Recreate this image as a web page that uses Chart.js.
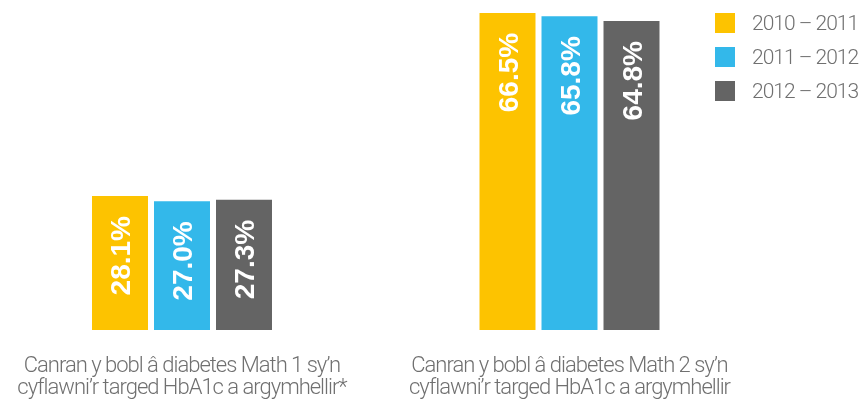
<!DOCTYPE html>
<html lang="cy">
<head>
<meta charset="utf-8">
<title>HbA1c</title>
<script src="https://cdn.jsdelivr.net/npm/chart.js@4.4.0/dist/chart.umd.min.js"></script>
<style>
  html, body { margin: 0; padding: 0; background: #fff; }
  #wrap { position: relative; width: 863px; height: 403px; }
  #legend {
    position: absolute; left: 715px; top: 13px;
    font-family: Roboto, "Liberation Sans", sans-serif; font-weight: 300;
    font-size: 21px; letter-spacing: -1px; color: #707070;
  }
  .item { display: flex; align-items: center; height: 20px; margin-bottom: 14px; white-space: nowrap; }
  .swatch { width: 20px; height: 20px; margin-right: 17px; flex: none; }
</style>
</head>
<body>
<div id="wrap">
  <canvas id="chart" width="863" height="403"></canvas>
  <div id="legend"></div>
</div>
<script>
const CATEGORIES = [
  ["Canran y bobl â diabetes Math 1 sy’n", "cyflawni’r targed HbA1c a argymhellir*"],
  ["Canran y bobl â diabetes Math 2 sy’n", "cyflawni’r targed HbA1c a argymhellir"],
];
const SERIES_LABELS = ["2010 – 2011", "2011 – 2012", "2012 – 2013"];
const VALUES_2010_11 = [28.1, 66.5];
const VALUES_2011_12 = [27.0, 65.8];
const VALUES_2012_13 = [27.3, 64.8];
const COLORS = ["#FDC300", "#33B8EA", "#646464"];

const TEXT = "#707070";
const TIGHT = "-1px";

// Llythrennau tynnach i'r labeli categori, fel yn y gwreiddiol
// (wrth fesur ac wrth dynnu, fel nad yw'r cynllun yn symud)
const tightText = {
  id: "tightText",
  beforeLayout(chart) {
    chart.ctx.letterSpacing = TIGHT;
  },
  beforeDraw(chart) {
    chart.ctx.letterSpacing = TIGHT;
  },
};

// Labeli gwyn wedi'u troi, wedi'u hangori ar ben pob bar
const valueLabels = {
  id: "valueLabels",
  afterDatasetsDraw(chart) {
    const ctx = chart.ctx;
    ctx.save();
    ctx.letterSpacing = "0px";
    ctx.fillStyle = "#ffffff";
    ctx.font = 'bold 28px "Liberation Sans", Arial, sans-serif';
    ctx.textAlign = "right";
    ctx.textBaseline = "alphabetic";
    chart.data.datasets.forEach((ds, di) => {
      chart.getDatasetMeta(di).data.forEach((bar, i) => {
        ctx.save();
        ctx.translate(bar.x, bar.y + 20);
        ctx.rotate(-Math.PI / 2);
        ctx.fillText(ds.data[i].toFixed(1) + "%", 0, 10);
        ctx.restore();
      });
    });
    ctx.restore();
  },
};

const seriesValues = [VALUES_2010_11, VALUES_2011_12, VALUES_2012_13];

new Chart(document.getElementById("chart"), {
  type: "bar",
  data: {
    labels: CATEGORIES,
    datasets: SERIES_LABELS.map((label, i) => ({
      label,
      data: seriesValues[i],
      backgroundColor: COLORS[i],
      borderWidth: 0,
      clip: false,
    })),
  },
  options: {
    responsive: false,
    animation: false,
    events: [],
    layout: { padding: { left: 182, right: 293.5, top: 0, bottom: -13 } },
    datasets: { bar: { categoryPercentage: 0.48, barPercentage: 0.903 } },
    plugins: { legend: { display: false }, tooltip: { enabled: false } },
    scales: {
      x: {
        offset: false,
        grid: { display: false },
        border: { display: false },
        ticks: {
          color: TEXT,
          padding: 17,
          maxRotation: 0,
          autoSkip: false,
          font: { family: "Roboto, 'Liberation Sans', sans-serif", weight: 300, size: 22, lineHeight: 1.0 },
        },
      },
      y: { display: false, min: 0, max: 69.2 },
    },
  },
  plugins: [tightText, valueLabels],
});

document.getElementById("legend").innerHTML = SERIES_LABELS.map(
  (label, i) =>
    `<div class="item"><span class="swatch" style="background:${COLORS[i]}"></span>${label}</div>`
).join("");
</script>
</body>
</html>
